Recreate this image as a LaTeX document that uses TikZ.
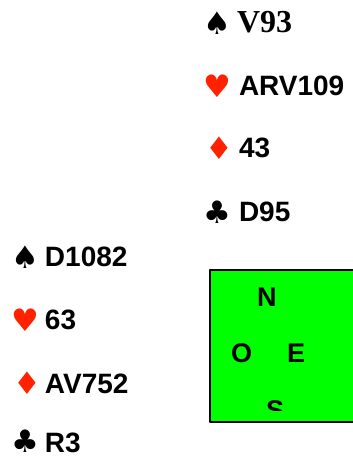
\documentclass[tikz,border=0pt]{standalone}
\usepackage{fontspec}
\setmainfont{Liberation Sans}
\newfontfamily\suitfont{DejaVu Sans}
\newfontfamily\serifbold{Liberation Serif}
\usepackage{xcolor}
\definecolor{ffrrqq}{rgb}{1.,0.13,0.}
\definecolor{qqffqq}{rgb}{0.,1.,0.}
\tikzset{every node/.style={inner sep=0pt,outer sep=0pt},
  suit/.style={anchor=base west,font=\suitfont\fontsize{31}{31}\selectfont},
  hand/.style={anchor=base west,font=\bfseries\fontsize{28}{28}\selectfont},
  wind/.style={anchor=base west,font=\bfseries\fontsize{27}{27}\selectfont}}

\begin{document}
\begin{tikzpicture}[line cap=round,line join=round,x=1pt,y=1pt]
                \useasboundingbox (0,0) rectangle (353,459);
                % nord
                \node [suit] (npique) at (204,424) {♠};
                \node [anchor=base west,font=\serifbold\bfseries\fontsize{32}{32}\selectfont] (npiquec) at (237,426) {V93};
                \node [suit,color=ffrrqq] (ncoeur) at (204,361) {♥};
                \node [hand] (ncoeurc) at (239,363) {ARV109};
                \node [suit,color=ffrrqq] (ncarreau) at (205,299) {♦};
                \node [hand] (ncarreauc) at (239,301) {43};
                \node [suit] (ntrefle) at (204,235) {♣};
                \node [hand] (ntreflec) at (239,237) {D95};
                % ouest
                \node [suit] (opique) at (12,190) {♠};
                \node [hand] (opiquec) at (45,192) {D1082};
                \node [suit,color=ffrrqq] (ocoeur) at (12,127) {♥};
                \node [hand] (ocoeurc) at (45,129) {63};
                \node [suit,color=ffrrqq] (ocarreau) at (13,64) {♦};
                \node [hand] (ocarreauc) at (45,66) {AV752};
                \node [suit,text depth=0pt] (otrefle) at (12,6) {♣};
                \node [hand,text depth=0pt] (otreflec) at (45,6) {R3};
                % table
                \draw [line width=1.5pt,fill=qqffqq] (210,37) rectangle (362,189);
                \begin{scope}
                \clip (210,48) rectangle (362,189);
                \node [wind] (nord) at (257,152) {N};
                \node [wind] (ouest) at (231,96) {O};
                \node [wind] (est) at (287,96) {E};
                \node [wind] (sud) at (266,39) {S};
                \end{scope}
            \end{tikzpicture}
\end{document}
